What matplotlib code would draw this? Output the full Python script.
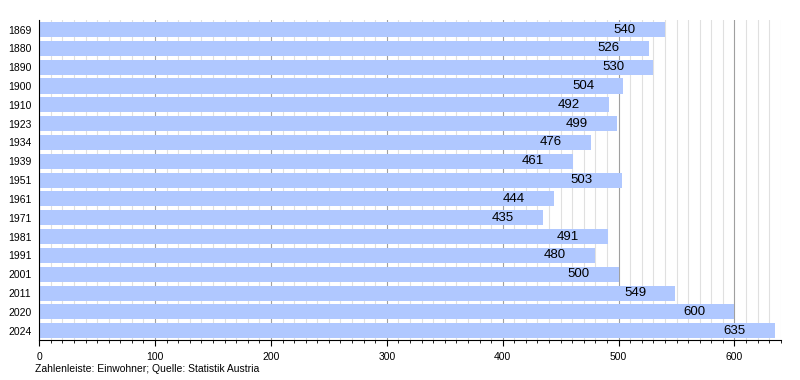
import matplotlib.pyplot as plt
from matplotlib.ticker import MultipleLocator

years = ['1869', '1880', '1890', '1900', '1910', '1923', '1934', '1939', '1951',
         '1961', '1971', '1981', '1991', '2001', '2011', '2020', '2024']
population = [540, 526, 530, 504, 492, 499, 476, 461, 503,
              444, 435, 491, 480, 500, 549, 600, 635]

plt.rcParams['font.family'] = ['Liberation Sans', 'DejaVu Sans']

fig = plt.figure(figsize=(8, 3.8), dpi=100)
ax = fig.add_axes([0.049, 0.105, 0.927, 0.842])

pos = list(range(len(years)))
ax.barh(pos, population, height=0.8, color='#b0c8ff', zorder=2)

# value labels sit a fixed distance inside the bar end
for p, v in zip(pos, population):
    ax.annotate(str(v), xy=(v, p), xytext=(-21, 0), textcoords='offset points',
                ha='right', va='center', fontsize=9.5, zorder=4)

ax.set_xlim(0, 640)
ax.set_ylim(len(years) - 0.5, -0.5)
ax.set_yticks(pos)
ax.set_yticklabels(years, fontsize=7.5)
ax.tick_params(axis='y', length=0, pad=5.5)

ax.xaxis.set_major_locator(MultipleLocator(100))
ax.xaxis.set_minor_locator(MultipleLocator(10))
ax.tick_params(axis='x', which='major', length=4.5, labelsize=7.5, pad=4)
ax.tick_params(axis='x', which='minor', length=2.5)
ax.set_axisbelow(True)
ax.grid(axis='x', which='major', color='#a0a0a0', linewidth=0.8, zorder=0)
ax.grid(axis='x', which='minor', color='#e0e0e0', linewidth=0.8, zorder=0)

for s in ['top', 'right']:
    ax.spines[s].set_visible(False)

fig.text(0.044, 0.02, 'Zahlenleiste: Einwohner; Quelle: Statistik Austria', fontsize=7.5)

plt.savefig('out.png', dpi=100)
